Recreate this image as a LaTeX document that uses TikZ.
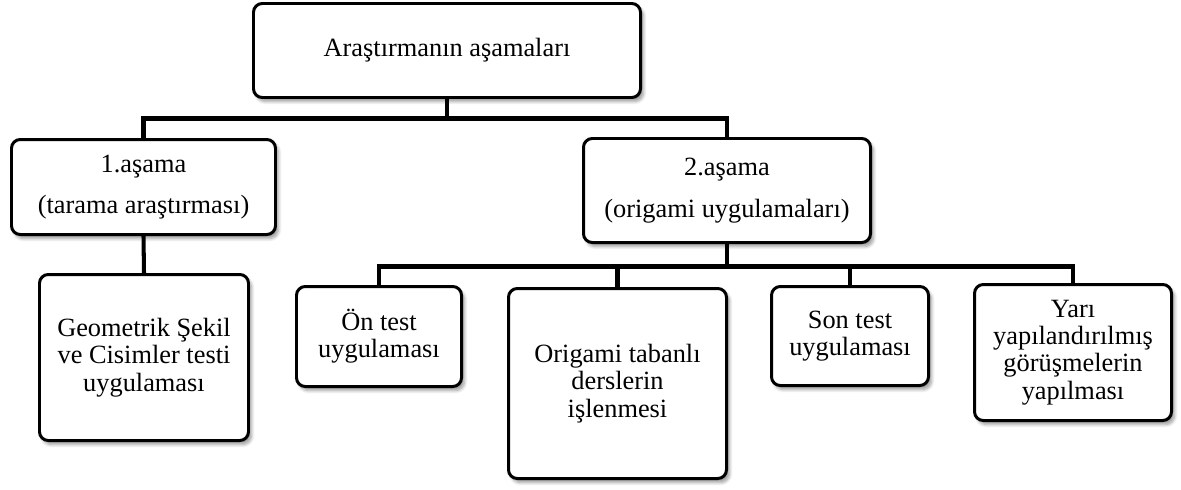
\documentclass[tikz,border=0pt]{standalone}
\usepackage{fontspec}
\setmainfont{Liberation Serif}
\usepackage{tikz}
\usetikzlibrary{shadows.blur}

\begin{document}
\begin{tikzpicture}[
    stagebox/.style={rectangle, rounded corners=5pt, draw=black, line width=1.7pt,
                     fill=white, align=center, inner sep=2pt,
                     font=\fontsize{15}{15.5}\selectfont,
                     blur shadow={shadow xshift=0.6mm, shadow yshift=-0.8mm,
                                  shadow blur steps=6, shadow opacity=40}},
    conn/.style={draw=black, line width=2.3pt},
]
  \useasboundingbox (0,0) rectangle (23.62,-9.78);

  % ---- top level ----
  \node[stagebox, minimum width=7.74cm, minimum height=1.88cm] (root) at (8.94,-1.01)
    {Araştırmanın aşamaları};

  % ---- stages ----
  \node[stagebox, minimum width=5.28cm, minimum height=1.90cm] (stage1) at (2.87,-3.74)
    {1.aşama\\[8pt](tarama araştırması)};
  \node[stagebox, minimum width=5.74cm, minimum height=2.08cm] (stage2) at (14.54,-3.81)
    {2.aşama\\[8pt](origami uygulamaları)};

  % ---- steps ----
  \node[stagebox, minimum width=4.18cm, minimum height=3.32cm] (geotest) at (2.88,-7.15)
    {Geometrik Şekil\\ve Cisimler testi\\uygulaması};
  \node[stagebox, minimum width=3.30cm, minimum height=2.00cm] (pretest) at (7.58,-6.73)
    {Ön test\\uygulaması};
  \node[stagebox, minimum width=4.36cm, minimum height=3.80cm] (lessons) at (12.35,-7.67)
    {Origami tabanlı\\derslerin\\işlenmesi};
  \node[stagebox, minimum width=3.14cm, minimum height=1.98cm] (posttest) at (17.00,-6.72)
    {Son test\\uygulaması};
  \node[stagebox, minimum width=3.94cm, minimum height=2.72cm] (interview) at (21.46,-7.05)
    {Yarı\\yapılandırılmış\\görüşmelerin\\yapılması};

  % ---- connectors ----
  \draw[conn] (root.south) -- ++(0,-0.39) -| (stage1.north);
  \draw[conn] (root.south) -- ++(0,-0.39) -| (stage2.north);
  \draw[conn] (stage1.south) -- (geotest.north);
  \foreach \n in {pretest, lessons, posttest, interview}
    \draw[conn] (stage2.south) -- ++(0,-0.45) -| (\n.north);
\end{tikzpicture}
\end{document}
